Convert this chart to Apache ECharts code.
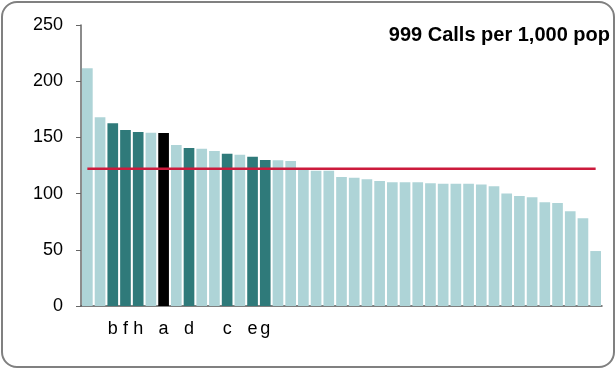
<!DOCTYPE html>
<html>
<head>
<meta charset="utf-8">
<script src="https://cdn.jsdelivr.net/npm/echarts@6/dist/echarts.min.js"></script>
<style>
html,body{margin:0;padding:0;background:#fff;}
#frame{position:absolute;left:1px;top:1px;width:614px;height:367px;box-sizing:border-box;border:2px solid #808080;border-radius:16px;}
#chart{position:absolute;left:0;top:0;width:616px;height:369px;}
</style>
</head>
<body>
<div id="frame"></div>
<div id="chart"></div>
<script>
// Data
const labels = ['', '', 'b', 'f', 'h', '', 'a', '', 'd', '', '', 'c', '', 'e', 'g',
  '', '', '', '', '', '', '', '', '', '', '', '', '', '', '', '', '', '', '', '', '', '', '', '', '', ''];
const values = [211.5, 168, 162.5, 156.6, 154.8, 154.2, 153.9, 143.2, 140.6, 140, 137.9, 135.5, 134.6, 132.8, 129.8,
  129.6, 129, 121.3, 120.4, 120.4, 114.8, 114.2, 112.7, 111.2, 110, 110, 110, 109.1, 108.8, 108.8,
  108.8, 108.2, 106.5, 100.2, 97.9, 96.7, 92.2, 91.6, 84.2, 78, 48.9];
// group: 0 = other, 1 = highlighted, 2 = selected
const groups = [0,0,1,1,1,0,2,0,1,0,0,1,0,1,1,0,0,0,0,0,0,0,0,0,0,0,0,0,0,0,0,0,0,0,0,0,0,0,0,0,0];
const average = 122;
const titleText = '999 Calls per 1,000 pop';
const yTicks = [0, 50, 100, 150, 200, 250];

const palette = ['#aed4d7', '#2f7a7a', '#000000'];
const cats = labels.map((l, i) => String(i));
const chart = echarts.init(document.getElementById('chart'), null, {renderer: 'canvas'});
chart.setOption({
  animation: false,
  title: {
    text: titleText, right: 1, top: 20,
    textStyle: {fontFamily: 'Liberation Sans, Arial', fontWeight: 'bold', fontSize: 20, color: '#000'}
  },
  grid: {left: 81, right: 14, top: 25, bottom: 63, containLabel: false},
  xAxis: {
    type: 'category', data: cats,
    axisLine: {lineStyle: {color: '#555', width: 1.5}},
    axisTick: {show: false},
    axisLabel: {interval: 0, margin: 14, fontFamily: 'Liberation Sans, Arial', fontSize: 18, color: '#000',
      formatter: v => labels[+v]}
  },
  yAxis: {
    type: 'value', min: yTicks[0], max: yTicks[yTicks.length - 1], interval: 50,
    splitLine: {show: false},
    axisLine: {show: true, lineStyle: {color: '#666', width: 1.5}},
    axisTick: {show: true, length: 5, lineStyle: {color: '#666'}},
    axisLabel: {margin: 18, fontFamily: 'Liberation Sans, Arial', fontSize: 18, color: '#000'}
  },
  series: [
    {
      type: 'bar', barCategoryGap: '16%',
      data: values.map((v, i) => ({value: v, itemStyle: {color: palette[groups[i]]}}))
    },
    {
      type: 'line', data: values.map(() => average), symbol: 'none',
      lineStyle: {color: '#cc1a3c', width: 2.5}, z: 5
    }
  ]
});
</script>
</body>
</html>
